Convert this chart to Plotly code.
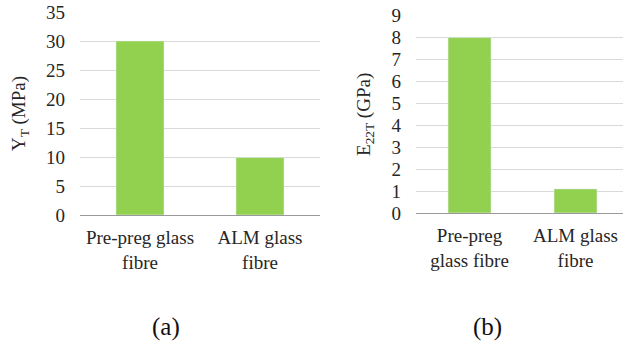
import plotly.graph_objects as go

categories_a = ["Pre-preg glass<br>fibre", "ALM glass<br>fibre"]
values_a = [30, 9.9]
categories_b = ["Pre-preg<br>glass fibre", "ALM glass<br>fibre"]
values_b = [8, 1.1]
yticks_a = [0, 5, 10, 15, 20, 25, 30, 35]
yticks_b = [0, 1, 2, 3, 4, 5, 6, 7, 8, 9]

W, H = 623, 347
BAR = "#92d050"
FONT = "Liberation Serif, Times New Roman, serif"
TXT = "#262626"

fig = go.Figure()
fig.add_trace(go.Bar(x=[0, 1], y=values_a, marker_color=BAR, width=0.4,
                     xaxis="x", yaxis="y", showlegend=False, hoverinfo="skip"))
fig.add_trace(go.Bar(x=[0, 1], y=values_b, marker_color=BAR, width=0.405,
                     xaxis="x2", yaxis="y2", showlegend=False, hoverinfo="skip"))

common_y = dict(showgrid=True, gridcolor="#d9d9d9", gridwidth=1, zeroline=False,
                showline=False, ticks="", tickfont=dict(family=FONT, size=19, color=TXT),
                ticklabelstandoff=14, automargin=False)
common_x = dict(showgrid=False, zeroline=False, showline=True, linecolor="#9a9a9a",
                linewidth=1, ticks="", tickfont=dict(family=FONT, size=19, color=TXT),
                tickmode="array", automargin=False, ticklabelstandoff=5)

fig.update_layout(
    width=W, height=H, margin=dict(l=0, r=0, t=0, b=0),
    paper_bgcolor="white", plot_bgcolor="white",
    xaxis=dict(domain=[80 / W, 320 / W], range=[-0.5, 1.5], anchor="y",
               tickvals=[0, 1], ticktext=categories_a, **common_x),
    yaxis=dict(domain=[1 - 215 / H, 1 - 12 / H], range=[0, 35], anchor="x",
               tickvals=yticks_a,
               title=dict(text="Y<sub>T</sub> (MPa)", font=dict(family=FONT, size=19, color=TXT)),
               **common_y),
    xaxis2=dict(domain=[416 / W, 1.0], range=[-0.505, 1.448], anchor="y2",
                tickvals=[0, 1], ticktext=categories_b, **common_x),
    yaxis2=dict(domain=[1 - 213 / H, 1 - 15.7 / H], range=[0, 9], anchor="x2",
                tickvals=yticks_b,
                title=dict(text="E<sub>22T</sub> (GPa)", font=dict(family=FONT, size=19, color=TXT)),
                **common_y),
)

fig.add_annotation(text="(a)", x=166 / W, y=1 - 327 / H, xref="paper", yref="paper",
                   xanchor="center", yanchor="middle",
                   showarrow=False, font=dict(family=FONT, size=25, color="#111"))
fig.add_annotation(text="(b)", x=488 / W, y=1 - 327 / H, xref="paper", yref="paper",
                   xanchor="center", yanchor="middle",
                   showarrow=False, font=dict(family=FONT, size=25, color="#111"))

fig.write_html("out.html", config={"displayModeBar": False},
               post_script="document.body.style.margin='0';document.body.style.overflow='hidden';")
